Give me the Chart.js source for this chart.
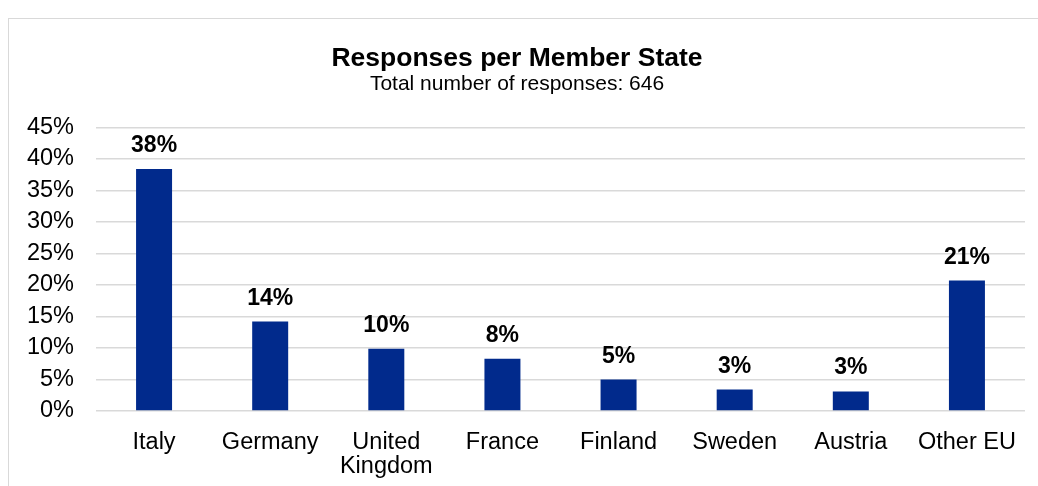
<!DOCTYPE html>
<html>
<head>
<meta charset="utf-8">
<script src="https://cdn.jsdelivr.net/npm/chart.js@4/dist/chart.umd.min.js"></script>
<style>
  html, body { margin: 0; padding: 0; background: #fff; overflow: hidden; }
  body { width: 1038px; height: 486px; position: relative; }
  #frame {
    position: absolute; left: 8px; top: 18px;
    width: 1046px; height: 480px;
    border-left: 1.5px solid #d9d9d9; border-top: 1.5px solid #d9d9d9;
  }
</style>
</head>
<body>
<div id="frame"><canvas id="chart" width="1046" height="468"></canvas></div>
<script>
// Responses per Member State — share of all responses
const memberStates = ['Italy', 'Germany', ['United', 'Kingdom'], 'France', 'Finland', 'Sweden', 'Austria', 'Other EU'];
const responseShare = [38.4, 14.2, 9.9, 8.3, 5.0, 3.4, 3.1, 20.7];
const yTicks = [0, 5, 10, 15, 20, 25, 30, 35, 40, 45];

const FONT = '"Liberation Sans", Arial, sans-serif';

// draws the bold percentage above every bar
const barLabels = {
  id: 'barLabels',
  afterDatasetsDraw(chart) {
    const ctx = chart.ctx;
    const meta = chart.getDatasetMeta(0);
    ctx.save();
    ctx.font = 'bold 23px ' + FONT;
    ctx.fillStyle = '#000';
    ctx.textAlign = 'center';
    ctx.textBaseline = 'alphabetic';
    meta.data.forEach((bar, i) => {
      ctx.fillText(Math.round(responseShare[i]) + '%', bar.x, bar.y - 17);
    });
    ctx.restore();
  }
};

new Chart(document.getElementById('chart'), {
  type: 'bar',
  data: {
    labels: memberStates,
    datasets: [{
      data: responseShare,
      backgroundColor: '#012A8C',
      borderWidth: 0,
      categoryPercentage: 1,
      barPercentage: 0.31,
    }],
  },
  options: {
    responsive: false,
    animation: false,
    layout: { padding: { left: 0, right: 30, top: 0, bottom: 0 } },
    plugins: {
      legend: { display: false },
      tooltip: { enabled: false },
      title: {
        display: true,
        text: 'Responses per Member State',
        color: '#000',
        font: { family: FONT, size: 26.5, weight: 'bold', lineHeight: 1 },
        padding: { top: 26, bottom: 2 },
      },
      subtitle: {
        display: true,
        text: 'Total number of responses: 646',
        color: '#000',
        font: { family: FONT, size: 21, lineHeight: 1 },
        padding: { top: 0, bottom: 33 },
      },
    },
    scales: {
      x: {
        grid: { display: false },
        border: { display: false },
        ticks: { color: '#000', font: { family: FONT, size: 23.5, lineHeight: 1.05 }, padding: 11, maxRotation: 0 },
        afterFit(scale) { scale.height = 76; },
      },
      y: {
        min: 0,
        max: 45,
        afterBuildTicks(scale) { scale.ticks = yTicks.map(v => ({ value: v })); },
        grid: { color: '#d9d9d9', lineWidth: 1.5, drawTicks: false },
        border: { display: false },
        ticks: {
          color: '#000',
          font: { family: FONT, size: 23.5 },
          padding: 22,
          callback: v => v + '%',
        },
        afterFit(scale) { scale.width = 87; },
      },
    },
  },
  plugins: [barLabels],
});
</script>
</body>
</html>
